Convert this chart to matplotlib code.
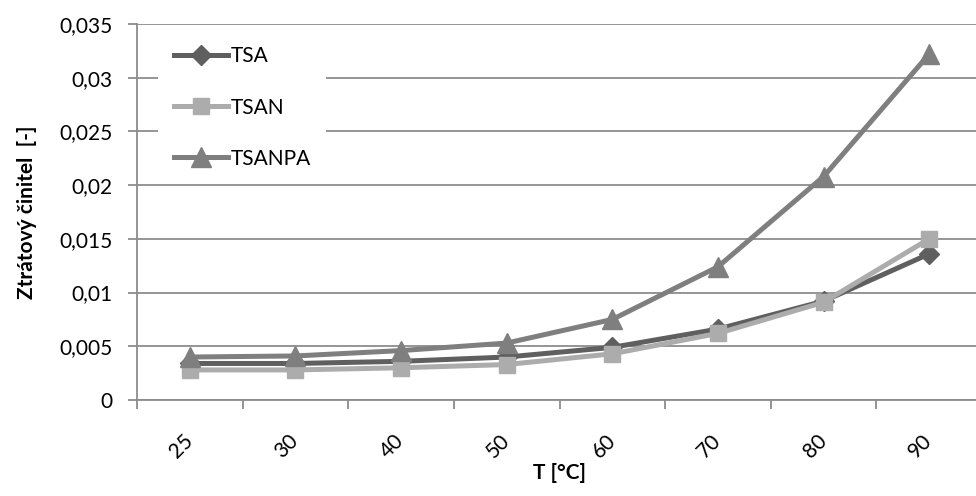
import matplotlib
matplotlib.use("Agg")
import matplotlib.pyplot as plt
from matplotlib.ticker import FixedLocator, FuncFormatter

categories = ["25", "30", "40", "50", "60", "70", "80", "90"]
tsa = [0.0034, 0.0034, 0.0036, 0.0040, 0.0049, 0.0066, 0.0092, 0.0136]
tsan = [0.0028, 0.0028, 0.0030, 0.0033, 0.0043, 0.0062, 0.0091, 0.0150]
tsanpa = [0.0040, 0.0041, 0.0046, 0.0053, 0.0075, 0.0124, 0.0208, 0.0322]
yticks = [0, 0.005, 0.01, 0.015, 0.02, 0.025, 0.03, 0.035]
ytick_labels = ["0", "0,005", "0,01", "0,015", "0,02", "0,025", "0,03", "0,035"]

plt.rcParams['font.family'] = ['Lato', 'DejaVu Sans']

fig = plt.figure(figsize=(9.76, 4.96), dpi=100)
ax = fig.add_axes([137/976, 1-400/496, (982-137)/976, (400-24)/496])

x = list(range(len(categories)))
lw = 3.6
ax.plot(x, tsa, color="#5f5f5f", lw=lw, marker="D", ms=10, label="TSA", zorder=3)
ax.plot(x, tsan, color="#acacac", lw=lw, marker="s", ms=12, label="TSAN", zorder=4)
ax.plot(x, tsanpa, color="#7f7f7f", lw=lw, marker="^", ms=14, label="TSANPA", zorder=5)

ax.set_xlim(-0.5, len(categories) - 0.5)
ax.set_ylim(0, 0.035)
ax.set_yticks(yticks)
ax.set_yticklabels(ytick_labels)
ax.yaxis.grid(True, color="#8c8c8c", lw=1.3)
ax.set_axisbelow(True)

ax.xaxis.set_major_locator(FixedLocator([i - 0.5 for i in range(len(categories) + 1)]))
ax.xaxis.set_major_formatter(FuncFormatter(lambda v, p: ""))
ax.xaxis.set_minor_locator(FixedLocator(x))
ax.set_xticklabels(categories, minor=True)
ax.tick_params(axis="x", which="minor", length=0, labelsize=15, rotation=45, pad=27)
ax.tick_params(axis="x", which="major", length=6.5, width=1.3, color="#8c8c8c", direction="out")
ax.tick_params(axis="y", length=6.5, width=1.3, color="#8c8c8c", direction="out", labelsize=15, pad=11)
for lab in ax.get_xticklabels(minor=True):
    lab.set_ha("right")
    lab.set_va("center")
    lab.set_rotation_mode("anchor")

for s in ["top", "right"]:
    ax.spines[s].set_visible(False)
for s in ["left", "bottom"]:
    ax.spines[s].set_color("#8c8c8c")
    ax.spines[s].set_linewidth(1.3)

ax.set_ylabel("Ztrátový činitel  [-]", fontsize=15, fontweight="bold", labelpad=16)
ax.set_xlabel("T [°C]", fontsize=15, fontweight="bold", labelpad=1)

leg = ax.legend(loc="upper left", bbox_to_anchor=(0.013, 1.01), fontsize=15,
                handlelength=2.6, labelspacing=1.5, handletextpad=0.1,
                borderpad=0.75, frameon=True, fancybox=False)
leg.get_frame().set_facecolor("white")
leg.get_frame().set_edgecolor("none")
leg.get_frame().set_alpha(1)

fig.savefig("out.png", dpi=100)
